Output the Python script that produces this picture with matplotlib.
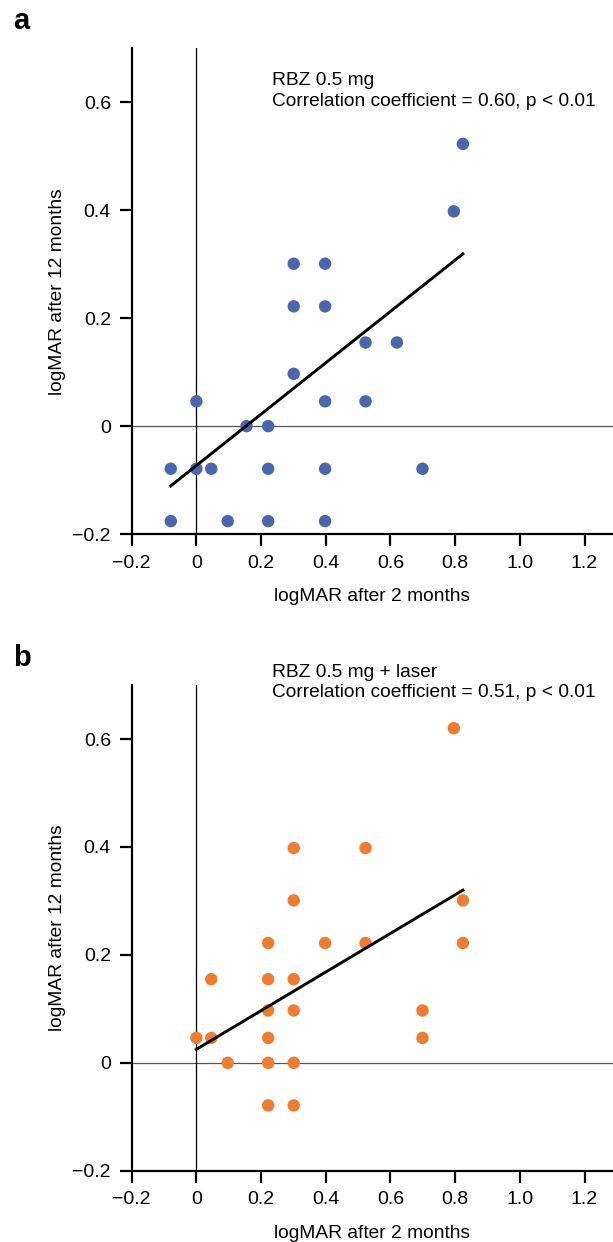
import numpy as np
import matplotlib.pyplot as plt

plt.rcParams['font.family'] = ['Liberation Sans', 'DejaVu Sans']

# panel a: RBZ 0.5 mg
x_a = [-0.079, -0.079, 0, 0, 0.046, 0.097, 0.155, 0.222, 0.222, 0.222,
       0.301, 0.301, 0.301, 0.398, 0.398, 0.398, 0.398, 0.398,
       0.523, 0.523, 0.62, 0.699, 0.796, 0.824]
y_a = [-0.079, -0.176, 0.046, -0.079, -0.079, -0.176, 0, 0, -0.079, -0.176,
       0.301, 0.222, 0.097, 0.301, 0.222, 0.046, -0.079, -0.176,
       0.155, 0.046, 0.155, -0.079, 0.398, 0.523]
fit_a = (-0.073, 0.476)  # intercept, slope
fit_range_a = (-0.079, 0.824)

# panel b: RBZ 0.5 mg + laser
x_b = [0, 0.046, 0.046, 0.097, 0.222, 0.222, 0.222, 0.222, 0.222, 0.222,
       0.301, 0.301, 0.301, 0.301, 0.301, 0.301, 0.398, 0.523, 0.523,
       0.699, 0.699, 0.796, 0.824, 0.824]
y_b = [0.046, 0.046, 0.155, 0, 0.222, 0.155, 0.097, 0.046, 0, -0.079,
       0.398, 0.301, 0.155, 0.097, 0, -0.079, 0.222, 0.398, 0.222,
       0.097, 0.046, 0.62, 0.301, 0.222]
fit_b = (0.025, 0.358)
fit_range_b = (0.0, 0.824)

xticks = [-0.2, 0, 0.2, 0.4, 0.6, 0.8, 1.0, 1.2]
xticklabels = ['\u22120.2', '0', '0.2', '0.4', '0.6', '0.8', '1.0', '1.2']
yticks = [-0.2, 0, 0.2, 0.4, 0.6]
yticklabels = ['\u22120.2', '0', '0.2', '0.4', '0.6']

fig = plt.figure(figsize=(6.13, 12.42), dpi=100)
ax_a = fig.add_axes([0.2148, 0.570, 0.7852, 0.391])
ax_b = fig.add_axes([0.2148, 0.0574, 0.7852, 0.391])

panels = [
    (ax_a, x_a, y_a, fit_a, fit_range_a, '#4a66ae',
     'RBZ 0.5 mg\nCorrelation coefficient = 0.60, p < 0.01', 0.656, 'a'),
    (ax_b, x_b, y_b, fit_b, fit_range_b, '#ee7d31',
     'RBZ 0.5 mg + laser\nCorrelation coefficient = 0.51, p < 0.01', 0.740, 'b'),
]

for ax, xs, ys, fit, fr, col, txt, ty, lab in panels:
    ax.axhline(0, color='#555555', lw=0.9, zorder=1)
    ax.axvline(0, color='black', lw=0.9, zorder=1)
    ax.scatter(xs, ys, s=80, color=col, edgecolors='none', zorder=3)
    fx = np.array(fr)
    ax.plot(fx, fit[0] + fit[1] * fx, color='black', lw=2.1, zorder=4)
    ax.set_xlim(-0.2, 1.288)
    ax.set_ylim(-0.2, 0.7)
    ax.set_xticks(xticks)
    ax.set_xticklabels(xticklabels)
    ax.set_yticks(yticks)
    ax.set_yticklabels(yticklabels)
    for s in ['top', 'right']:
        ax.spines[s].set_visible(False)
    for s in ['left', 'bottom']:
        ax.spines[s].set_linewidth(1.6)
    ax.tick_params(labelsize=14, length=8.4, width=1.6, pad=6.5)
    ax.set_xlabel('logMAR after 2 months', fontsize=13.8, labelpad=12)
    ax.set_ylabel('logMAR after 12 months', fontsize=13.8, labelpad=4.5)
    ax.text(0.233, ty, txt, fontsize=13.8, va='top', ha='left',
            linespacing=1.3, clip_on=False)
    bb = ax.get_position()
    fig.text(0.022, bb.y1 + 0.0157, lab, fontsize=21, fontweight='bold',
             va='baseline', ha='left')

fig.savefig('out.png', dpi=100)
